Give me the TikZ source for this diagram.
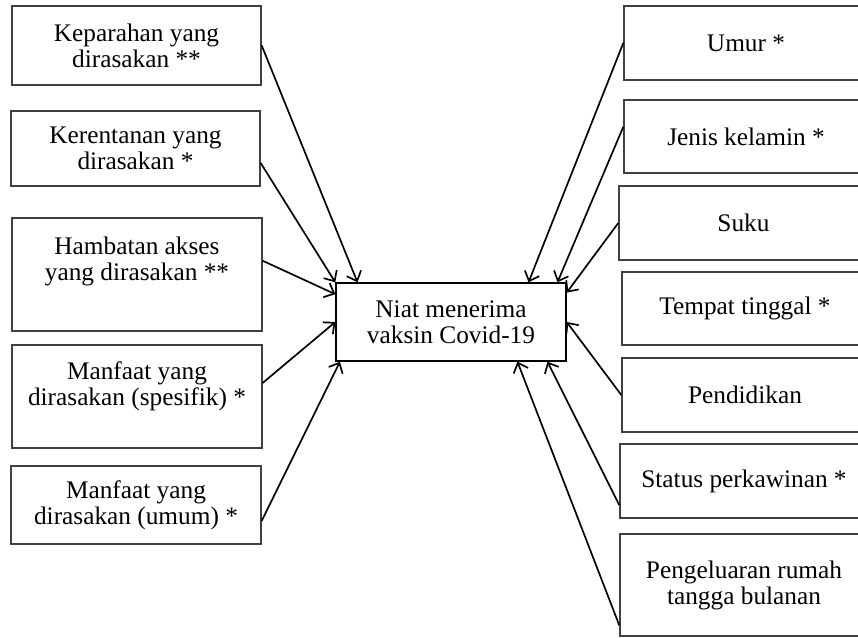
\documentclass[tikz,border=0pt]{standalone}
\usepackage{fontspec}
\setmainfont{Liberation Serif}
\usetikzlibrary{calc,arrows.meta}

\tikzset{
  faktor/.style={draw=black!75, line width=1pt, align=center, inner sep=0pt,
    font=\fontsize{18}{18.5}\selectfont},
  panah/.style={-{Straight Barb[length=6pt,width=11pt]}, line width=1.2pt},
}

\begin{document}
\begin{tikzpicture}[x=0.025cm, y=-0.025cm]
        \useasboundingbox (0,0) rectangle (858,638);
        \clip (0,0) rectangle (858,638);

        % faktor kiri
        \node[faktor, minimum width=249*0.025cm, minimum height=79*0.025cm] (kep) at (136.5,45.5)
        {Keparahan yang\\dirasakan **};
        \node[faktor, minimum width=249*0.025cm, minimum height=75*0.025cm] (ker) at (135.5,148.5)
        {Kerentanan yang\\dirasakan *};
        \node[faktor, minimum width=250*0.025cm, minimum height=113*0.025cm] (ham) at (137,274.5)
        {Hambatan akses\\yang dirasakan **\\[4pt]~};
        \node[faktor, minimum width=250*0.025cm, minimum height=103*0.025cm] (spe) at (137,396.5)
        {Manfaat yang\\dirasakan (spesifik) *\\~};
        \node[faktor, minimum width=250*0.025cm, minimum height=78*0.025cm] (umu) at (136,505)
        {Manfaat yang\\dirasakan (umum) *};

        % niat
        \node[faktor, draw=black, minimum width=230*0.025cm, minimum height=78*0.025cm] (niat) at (451,322)
        {Niat menerima\\vaksin Covid-19};

        % faktor kanan
        \node[faktor, minimum width=244*0.025cm, minimum height=74*0.025cm] (umr) at (746,43) {Umur *};
        \node[faktor, minimum width=244*0.025cm, minimum height=73*0.025cm] (jen) at (746,136.5) {Jenis kelamin *};
        \node[faktor, minimum width=249*0.025cm, minimum height=74*0.025cm] (suk) at (743.5,223) {Suku};
        \node[faktor, minimum width=246*0.025cm, minimum height=73*0.025cm] (tem) at (745,308.5) {Tempat tinggal *};
        \node[faktor, minimum width=246*0.025cm, minimum height=74*0.025cm] (pen) at (745,395) {Pendidikan};
        \node[faktor, minimum width=248*0.025cm, minimum height=74*0.025cm] (sta) at (744,481) {Status perkawinan *};
        \node[faktor, minimum width=248*0.025cm, minimum height=102*0.025cm] (pgl) at (744,585)
        {Pengeluaran rumah\\tangga bulanan};

        % panah ke niat
        \draw[panah] (kep.east) -- ($(niat.north west)!0.096!(niat.north east)$);
        \draw[panah] ($(ker.north east)!0.69!(ker.south east)$) -- (niat.north west);
        \draw[panah] ($(ham.north east)!0.38!(ham.south east)$) -- ($(niat.north west)!0.15!(niat.south west)$);
        \draw[panah] ($(spe.north east)!0.37!(spe.south east)$) -- (niat.west);
        \draw[panah] ($(umu.north east)!0.7!(umu.south east)$) -- ($(niat.south west)!0.02!(niat.south east)$);

        \draw[panah] (umr.west) -- ($(niat.north west)!0.835!(niat.north east)$);
        \draw[panah] ($(jen.north west)!0.37!(jen.south west)$) -- ($(niat.north west)!0.96!(niat.north east)$);
        \draw[panah] (suk.west) -- ($(niat.north east)!0.13!(niat.south east)$);
        \draw[panah] (pen.west) -- (niat.east);
        \draw[panah] ($(sta.north west)!0.82!(sta.south west)$) -- ($(niat.south west)!0.917!(niat.south east)$);
        \draw[panah] ($(pgl.north west)!0.89!(pgl.south west)$) -- ($(niat.south west)!0.787!(niat.south east)$);
      \end{tikzpicture}
\end{document}
